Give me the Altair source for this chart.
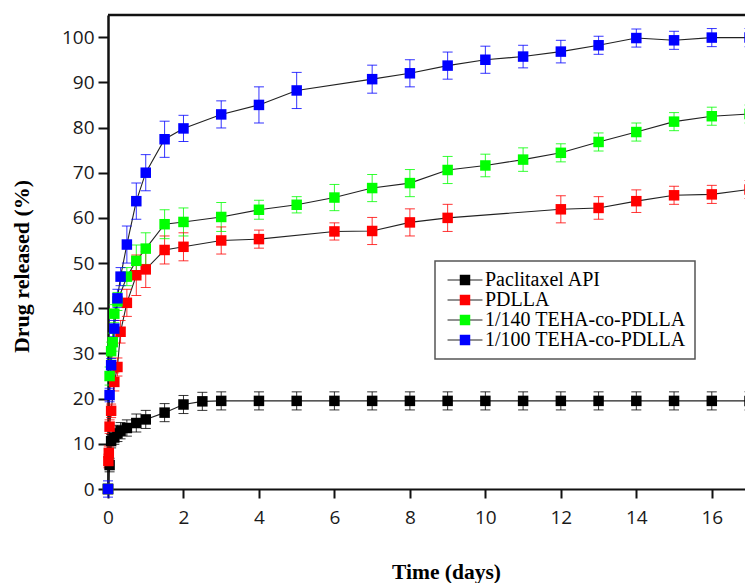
import altair as alt
import pandas as pd

series_names = ["Paclitaxel API", "PDLLA", "1/140 TEHA-co-PDLLA", "1/100 TEHA-co-PDLLA"]
series_colors = ["#000000", "#ff0000", "#00ff00", "#0000ff"]

api_t = [0, 0.042, 0.083, 0.167, 0.25, 0.333, 0.5, 0.75, 1, 1.5, 2, 2.5, 3, 4, 5,
         6, 7, 8, 9, 10, 11, 12, 13, 14, 15, 16, 17]
api_v = [0, 5.3, 10.6, 11.4, 12.3, 12.9, 13.5, 14.6, 15.4, 16.9, 18.7, 19.4, 19.5, 19.5, 19.5,
         19.5, 19.5, 19.5, 19.5, 19.5, 19.5, 19.5, 19.5, 19.5, 19.5, 19.5, 19.5]
api_e = [0.5, 1.5, 1.5, 1.5, 1.8, 1.8, 1.8, 2, 2, 2, 2, 2, 2, 2, 2,
         2, 2, 2, 2, 2, 2, 2, 2, 2, 2, 2, 2]

pdlla_t = [0, 0.01, 0.021, 0.042, 0.083, 0.167, 0.25, 0.333, 0.5, 0.75, 1, 1.5, 2, 3, 4,
           6, 7, 8, 9, 12, 13, 14, 15, 16, 17]
pdlla_v = [0, 6.2, 8.0, 13.8, 17.3, 23.7, 27.0, 34.8, 41.2, 47.3, 48.6, 52.9, 53.6, 55.0, 55.3,
           57.0, 57.1, 59.0, 60.0, 61.9, 62.2, 63.7, 65.0, 65.2, 66.3]
pdlla_e = [0.5, 1.5, 1.5, 1.5, 1.5, 2, 2, 2.5, 3, 4.5, 4, 3.1, 3.1, 3, 2,
           1.9, 3, 3, 3, 3, 2.5, 2.5, 2, 2, 2]

t140_t = [0, 0.042, 0.083, 0.125, 0.167, 0.25, 0.5, 0.75, 1, 1.5, 2, 3, 4, 5,
          6, 7, 8, 9, 10, 11, 12, 13, 14, 15, 16, 17]
t140_v = [0, 25.0, 30.5, 32.5, 38.8, 41.5, 47.0, 50.5, 53.2, 58.6, 59.1, 60.2, 61.8, 62.9,
          64.5, 66.6, 67.7, 70.6, 71.6, 72.9, 74.4, 76.8, 79.0, 81.3, 82.5, 83.0]
t140_e = [0.5, 2, 2, 2, 2, 2, 2, 3.5, 3.5, 3.2, 3.1, 3.2, 2.1, 1.8,
          2.9, 3, 3, 3, 2.5, 2.6, 2, 2, 2, 2, 2, 2]

t100_t = [0, 0.042, 0.083, 0.167, 0.25, 0.333, 0.5, 0.75, 1, 1.5, 2, 3, 4, 5,
          7, 8, 9, 10, 11, 12, 13, 14, 15, 16, 17]
t100_v = [0, 20.8, 27.4, 35.5, 42.2, 47.0, 54.1, 63.7, 70.0, 77.4, 79.8, 82.9, 85.0, 88.2,
          90.7, 92.0, 93.7, 95.0, 95.7, 96.8, 98.2, 99.8, 99.3, 99.9, 99.9]
t100_e = [1.8, 1.5, 1.5, 1.8, 2, 2, 4.1, 4, 4, 4, 2.9, 3, 4, 4,
          3.1, 3, 3, 3, 2.5, 2.5, 2, 2, 2, 2, 2]

x_ticks = list(range(0, 17))
y_ticks = list(range(0, 101, 5))
x_domain = [0, 16.88]
y_domain = [0, 104.9]

rows = []
for name, ts, vs, es in zip(series_names,
                            [api_t, pdlla_t, t140_t, t100_t],
                            [api_v, pdlla_v, t140_v, t100_v],
                            [api_e, pdlla_e, t140_e, t100_e]):
    for t, v, e in zip(ts, vs, es):
        rows.append({"series": name, "series_line": name, "t": t, "v": v,
                     "lo": v - e, "hi": v + e})
df = pd.DataFrame(rows)

W, H = 637, 474

xscale = alt.Scale(domain=x_domain, nice=False, zero=False)
yscale = alt.Scale(domain=y_domain, nice=False, zero=False)

x_axis = alt.Axis(
    values=x_ticks, title="Time (days)",
    labelExpr="datum.value % 2 == 0 ? datum.label : ''",
    tickSize={"condition": {"test": "datum.value % 2 == 1", "value": 5}, "value": 9},
    labelOverlap=False, labelFlush=False, grid=False,
    labelFont="Open Sans", labelFontSize=19, labelColor="#1a1a1a", labelPadding=10,
    domainColor="#111", domainWidth=2, tickColor="#111", tickWidth=2,
    titleFont="Liberation Serif", titleFontSize=21.5, titleFontWeight="bold", titleColor="#000",
    titleX=338, titleY=89, titleBaseline="alphabetic", titleAnchor="start", titleAlign="center",
)
y_axis = alt.Axis(
    values=y_ticks, title="Drug released (%)",
    labelExpr="datum.value % 10 == 0 ? datum.label : ''",
    tickSize={"condition": {"test": "datum.value % 10 == 5", "value": 5}, "value": 10},
    labelOverlap=False, grid=False,
    labelFont="Open Sans", labelFontSize=19, labelColor="#1a1a1a", labelPadding=4,
    domainColor="#111", domainWidth=2.5, tickColor="#111", tickWidth=2,
    titleFont="Liberation Serif", titleFontSize=22, titleFontWeight="bold", titleColor="#000",
    titleX=-80, titleY=251, titleBaseline="alphabetic", titleAngle=270, titleAlign="center",
    titleAnchor="start",
)

base = alt.Chart(df)

legend_common = dict(
    title=None, orient="none", legendX=327, legendY=246,
    symbolSize=110, padding=9, rowPadding=0,
    labelOffset=10, symbolOffset=11,
    labelFont="Liberation Serif", labelFontSize=20, labelLimit=400,
)

lines = base.mark_line(strokeWidth=1.1).encode(
    x=alt.X("t:Q", scale=xscale, axis=x_axis),
    y=alt.Y("v:Q", scale=yscale, axis=y_axis),
    stroke=alt.Stroke("series_line:N",
                      scale=alt.Scale(domain=series_names, range=["#222", "#222", "#222", "#222"]),
                      legend=alt.Legend(symbolType="M-3.33,0H-0.95M0.95,0H3.33",
                                        symbolStrokeWidth=1.2, labelOpacity=0,
                                        **legend_common)),
)

bars = base.mark_rule(strokeWidth=1, opacity=0.8).encode(
    x="t:Q", y="lo:Q", y2="hi:Q",
    color=alt.Color("series:N", scale=alt.Scale(domain=series_names, range=series_colors),
                    legend=None),
)
caps_lo = base.mark_tick(orient="horizontal", size=10, thickness=1, opacity=0.8).encode(
    x="t:Q", y="lo:Q",
    color=alt.Color("series:N", scale=alt.Scale(domain=series_names, range=series_colors),
                    legend=None),
)
caps_hi = base.mark_tick(orient="horizontal", size=10, thickness=1, opacity=0.8).encode(
    x="t:Q", y="hi:Q",
    color=alt.Color("series:N", scale=alt.Scale(domain=series_names, range=series_colors),
                    legend=None),
)

points = base.mark_square(size=110, filled=True, opacity=1, strokeWidth=0).encode(
    x="t:Q", y="v:Q",
    fill=alt.Fill("series:N", scale=alt.Scale(domain=series_names, range=series_colors),
                  legend=alt.Legend(symbolType="square", symbolStrokeWidth=0,
                                    labelColor="#000", strokeColor="#555",
                                    **legend_common)),
)

frame_top = alt.Chart(pd.DataFrame({"y": [y_domain[1]]})).mark_rule(
    color="#111", strokeWidth=2.5
).encode(y=alt.Y("y:Q", scale=yscale), x=alt.value(0), x2=alt.value(W))

chart = alt.layer(frame_top, lines, bars, caps_lo, caps_hi, points).properties(
    width=W, height=H,
    padding={"left": 108, "top": 15, "right": 0, "bottom": 94},
    autosize="none",
    background="white",
).resolve_legend(fill="independent", stroke="independent").configure_view(
    stroke=None
).configure_legend(strokeWidth=1.5)

chart.save("out.html", embed_options={"renderer": "svg", "actions": False})
